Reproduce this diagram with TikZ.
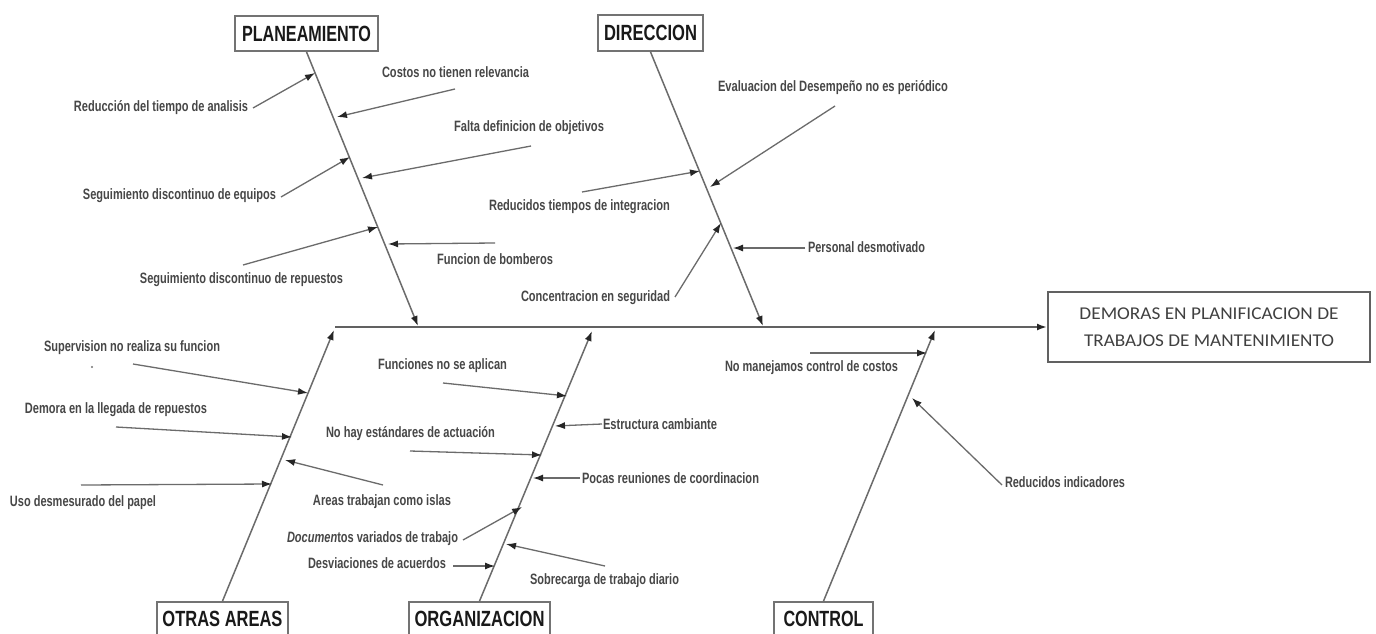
\documentclass[tikz,border=0pt]{standalone}
\usepackage{fontspec}
\setmainfont{Liberation Sans}
\newfontfamily\effectfont{Carlito}
\usetikzlibrary{arrows.meta}
% set a text to a given width (in pt), keeping its height
\newcommand\fitw[2]{\resizebox{#1pt}{\height}{#2}}

\begin{document}
\begin{tikzpicture}[x=1pt,y=-1pt,
  spine/.style={draw=black!62, line width=2pt, -{Latex[length=10pt,width=7pt,color=black!85]}},
  bone/.style={draw=black!58, line width=1.5pt, -{Latex[length=10pt,width=7pt,color=black!85]}},
  twig/.style={draw=black!58, line width=1.3pt, -{Latex[length=10pt,width=7pt,color=black!85]}},
  cause/.style={inner sep=0pt, text=black!72, font=\bfseries\fontsize{15}{17}\selectfont},
  head/.style={draw=black!55, line width=1.8pt, inner sep=0pt, text=black!90,
               font=\bfseries\fontsize{22}{24}\selectfont},
]
\useasboundingbox (0,0) rectangle (1376,634);
\fill[white] (0,0) rectangle (1376,634);

% ---------------- effect ----------------
\node (effect) [draw=black!62, line width=2pt, minimum width=322pt, minimum height=70pt,
  inner sep=0pt, align=center, text=black!75, font=\effectfont\fontsize{18}{27}\selectfont]
  at (1209,327) {\fitw{259}{DEMORAS EN PLANIFICACION DE}\\\fitw{250}{TRABAJOS DE MANTENIMIENTO}};

% ---------------- category boxes ----------------
\node (plan) [head, minimum width=143pt, minimum height=35pt] at (306.5,33.5) {\fitw{129}{PLANEAMIENTO}};
\node (dir)  [head, minimum width=105pt, minimum height=36pt] at (650.5,33)   {\fitw{93}{DIRECCION}};
\node (otr)  [head, minimum width=131pt, minimum height=34pt] at (222.5,619)  {\fitw{120}{OTRAS AREAS}};
\node (org)  [head, minimum width=141pt, minimum height=34pt] at (479.5,619)  {\fitw{130}{ORGANIZACION}};
\node (ctl)  [head, minimum width=99pt,  minimum height=34pt] at (823.5,619)  {\fitw{80}{CONTROL}};

% ---------------- spine and bones ----------------
\coordinate (s0) at (335,327);
\coordinate (bP) at (418,326);
\coordinate (bD) at (763,326);
\coordinate (bO) at (334,330);
\coordinate (bG) at (592,331);
\coordinate (bC) at (935,330);

\draw[spine] (s0) -- (effect.west);
\draw[bone] (plan.south) -- (bP);
\draw[bone] (dir.south) -- (bD);
\draw[bone] (otr.north) -- (bO);
\draw[bone] (org.north) -- (bG);
\draw[bone] (ctl.north) -- (bC);

% ---------------- causes: PLANEAMIENTO ----------------
\node (p1) [cause] at (161,108)   {\fitw{174}{Reducción del tiempo de analisis}};
\node (p2) [cause] at (455.5,72)  {\fitw{147}{Costos no tienen relevancia}};
\node (p3) [cause] at (529,128)   {\fitw{150}{Falta definicion de objetivos}};
\node (p4) [cause] at (179.5,196) {\fitw{193}{Seguimiento discontinuo de equipos}};
\node (p5) [cause] at (241.5,280) {\fitw{203}{Seguimiento discontinuo de repuestos}};
\node (p6) [cause] at (495,259)   {\fitw{116}{Funcion de bomberos}};

\coordinate (p1s) at (253,108); \coordinate (p1t) at (315,73);
\coordinate (p2s) at (455,89);  \coordinate (p2t) at (337,117);
\coordinate (p3s) at (531,146); \coordinate (p3t) at (362,178);
\coordinate (p4s) at (281,197); \coordinate (p4t) at (350,157);
\coordinate (p5s) at (243,265); \coordinate (p5t) at (378,227);
\coordinate (p6s) at (495,243); \coordinate (p6t) at (388,244);
\foreach \i in {1,...,6} \draw[twig] (p\i s) -- (p\i t);

% ---------------- causes: DIRECCION ----------------
\node (d1) [cause] at (833,88)    {\fitw{230}{Evaluacion del Desempeño no es periódico}};
\node (d2) [cause] at (579.5,207) {\fitw{181}{Reducidos tiempos de integracion}};
\node (d3) [cause] at (866.5,247) {\fitw{117}{Personal desmotivado}};
\node (d4) [cause] at (595.5,298) {\fitw{149}{Concentracion en seguridad}};

\coordinate (d1s) at (835,106); \coordinate (d1t) at (710,187);
\coordinate (d2s) at (582,192); \coordinate (d2t) at (700,171);
\coordinate (d3s) at (805,248); \coordinate (d3t) at (733,248);
\coordinate (d4s) at (675,297); \coordinate (d4t) at (721,223);
\foreach \i in {1,...,4} \draw[twig] (d\i s) -- (d\i t);

% ---------------- causes: OTRAS AREAS ----------------
\node (o1) [cause] at (132,348) {\fitw{176}{Supervision no realiza su funcion}};
\node (o2) [cause] at (116,410) {\fitw{182}{Demora en la llegada de repuestos}};
\node (o3) [cause] at (83,503)  {\fitw{146}{Uso desmesurado del papel}};
\node (o4) [cause] at (382,502) {\fitw{138}{Areas trabajan como islas}};
\fill[black!55] (92,367) circle (1.2);

\coordinate (o1s) at (133,364); \coordinate (o1t) at (308,393);
\coordinate (o2s) at (116,427); \coordinate (o2t) at (292,437);
\coordinate (o3s) at (81,485);  \coordinate (o3t) at (272,484);
\coordinate (o4s) at (383,485); \coordinate (o4t) at (285,460);
\foreach \i in {1,...,4} \draw[twig] (o\i s) -- (o\i t);

% ---------------- causes: ORGANIZACION ----------------
\node (g1) [cause] at (442.5,366) {\fitw{129}{Funciones no se aplican}};
\node (g2) [cause] at (660,424)   {\fitw{114}{Estructura cambiante}};
\node (g3) [cause] at (410.5,434) {\fitw{169}{No hay estándares de actuación}};
\node (g4) [cause] at (670.5,478) {\fitw{177}{Pocas reuniones de coordinacion}};
\node (g5) [cause] at (372.5,539) {\fitw{171}{\textit{Documen}tos variados de trabajo}};
\node (g6) [cause] at (377,563)   {\fitw{138}{Desviaciones de acuerdos}};
\node (g7) [cause] at (604.5,581) {\fitw{149}{Sobrecarga de trabajo diario}};

\coordinate (g1s) at (443,383); \coordinate (g1t) at (567,396);
\coordinate (g2s) at (602,424); \coordinate (g2t) at (555,426);
\coordinate (g3s) at (410,451); \coordinate (g3t) at (542,455);
\coordinate (g4s) at (580,478); \coordinate (g4t) at (533,478);
\coordinate (g5s) at (463,540); \coordinate (g5t) at (522,507);
\coordinate (g6s) at (453,566); \coordinate (g6t) at (495,566);
\coordinate (g7s) at (605,566); \coordinate (g7t) at (506,544);
\foreach \i in {1,...,7} \draw[twig] (g\i s) -- (g\i t);

% ---------------- causes: CONTROL ----------------
\node (c1) [cause] at (811.5,368) {\fitw{173}{No manejamos control de costos}};
\node (c2) [cause] at (1065,482)  {\fitw{120}{Reducidos indicadores}};

\coordinate (c1s) at (810,353);  \coordinate (c1t) at (927,353);
\coordinate (c2s) at (1002,485); \coordinate (c2t) at (912,398);
\foreach \i in {1,2} \draw[twig] (c\i s) -- (c\i t);
\end{tikzpicture}
\end{document}
